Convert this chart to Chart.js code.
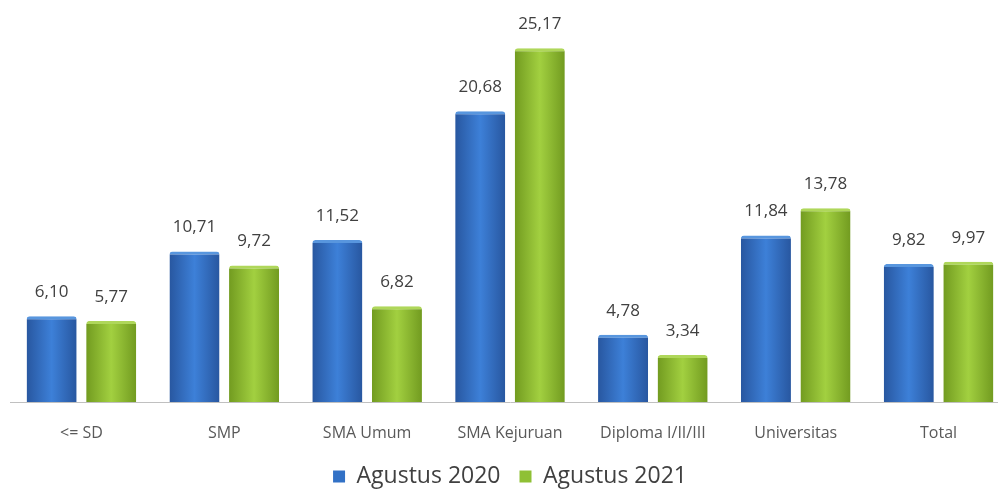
<!DOCTYPE html>
<html>
<head>
<meta charset="utf-8">
<script src="https://cdn.jsdelivr.net/npm/chart.js@4.4.1/dist/chart.umd.min.js"></script>
<style>
  html, body { margin: 0; padding: 0; background: #fff; overflow: hidden; }
  #wrap { width: 1010px; height: 498px; position: relative; }
</style>
</head>
<body>
<div id="wrap"><canvas id="eduChart"></canvas></div>
<script>
const categories = ['<= SD', 'SMP', 'SMA Umum', 'SMA Kejuruan', 'Diploma I/II/III', 'Universitas', 'Total'];
const aug2020 = [6.10, 10.71, 11.52, 20.68, 4.78, 11.84, 9.82];
const aug2021 = [5.77, 9.72, 6.82, 25.17, 3.34, 13.78, 9.97];

const CAT_PCT = 0.834;
const BAR_PCT = 0.84;

// horizontal shading per bar, worked out from the x scale
function barFill(ctx, edge, mid) {
    const chart = ctx.chart;
    const x = chart.scales && chart.scales.x;
    if (!x || !chart.chartArea || ctx.dataIndex === undefined) return mid;
    const step = (x.right - x.left) / categories.length;
    const slot = step * CAT_PCT / 2;
    const c = x.getPixelForValue(ctx.dataIndex) + (ctx.datasetIndex - 0.5) * slot;
    const half = slot * BAR_PCT / 2;
    const g = chart.ctx.createLinearGradient(c - half, 0, c + half, 0);
    g.addColorStop(0, edge);
    g.addColorStop(0.5, mid);
    g.addColorStop(1, edge);
    return g;
}

const valueLabels = {
    id: 'valueLabels',
    afterDatasetsDraw(chart) {
        const ctx = chart.ctx;
        ctx.save();
        ctx.font = '17px "Open Sans"';
        ctx.fillStyle = '#404040';
        ctx.textAlign = 'center';
        ctx.textBaseline = 'middle';
        chart.data.datasets.forEach((ds, di) => {
            chart.getDatasetMeta(di).data.forEach((bar, i) => {
                const txt = ds.data[i].toFixed(2).replace('.', ',');
                ctx.fillText(txt, bar.x, bar.y - 24);
            });
        });
        ctx.restore();
    }
};

new Chart(document.getElementById('eduChart'), {
    type: 'bar',
    data: {
        labels: categories,
        datasets: [{
            label: 'Agustus 2020',
            data: aug2020,
            backgroundColor: c => barFill(c, '#2857a0', '#3d80d8'),
            borderColor: '#5896de',
            borderWidth: { top: 3, left: 0, right: 0, bottom: 0 },
            borderRadius: { topLeft: 3, topRight: 3 },
            borderSkipped: 'bottom'
        }, {
            label: 'Agustus 2021',
            data: aug2021,
            backgroundColor: c => barFill(c, '#729b20', '#a2d040'),
            borderColor: '#afd75a',
            borderWidth: { top: 3, left: 0, right: 0, bottom: 0 },
            borderRadius: { topLeft: 3, topRight: 3 },
            borderSkipped: 'bottom'
        }]
    },
    options: {
        responsive: true,
        maintainAspectRatio: false,
        animation: false,
        categoryPercentage: CAT_PCT,
        barPercentage: BAR_PCT,
        layout: { padding: { left: 10, right: 0, top: 0, bottom: 0 } },
        scales: {
            x: {
                grid: { display: false },
                border: { display: true, color: '#c0c0c0', width: 1 },
                ticks: {
                    color: '#595959',
                    font: { family: 'Open Sans', size: 16 },
                    padding: 14,
                    maxRotation: 0
                },
                afterFit(scale) { scale.height = 44; }
            },
            y: {
                display: false,
                min: 0,
                max: 28.6
            }
        },
        plugins: {
            legend: {
                position: 'bottom',
                labels: {
                    color: '#404040',
                    font: { family: 'Open Sans', size: 23 },
                    boxWidth: 12,
                    boxHeight: 12,
                    padding: 19,
                    generateLabels(chart) {
                        const cols = ['#3271c6', '#8fc035'];
                        return chart.data.datasets.map((ds, i) => ({
                            text: ds.label,
                            fillStyle: cols[i],
                            strokeStyle: cols[i],
                            lineWidth: 0,
                            hidden: false,
                            datasetIndex: i,
                            fontColor: '#404040'
                        }));
                    }
                }
            },
            tooltip: { enabled: false }
        }
    },
    plugins: [valueLabels]
});
</script>
</body>
</html>
